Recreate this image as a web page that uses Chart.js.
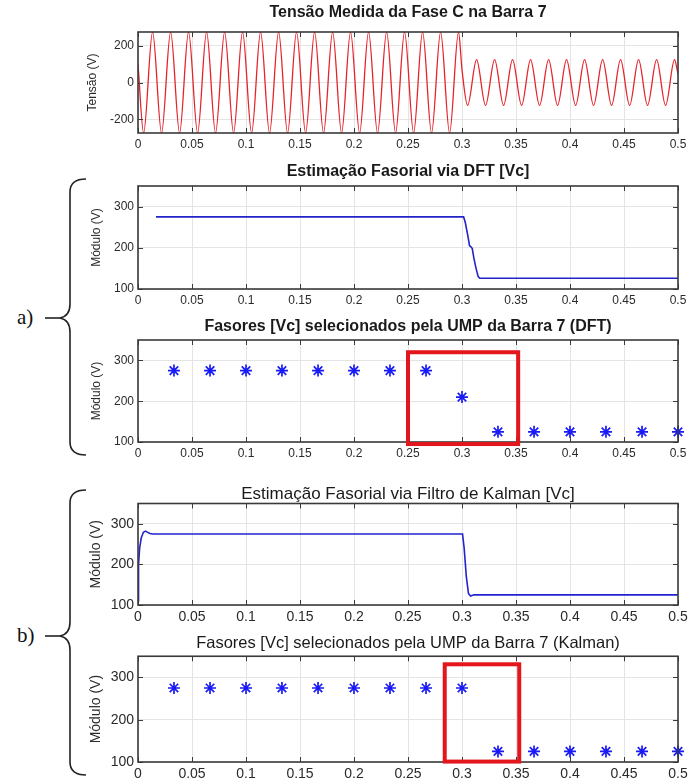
<!DOCTYPE html>
<html><head><meta charset="utf-8">
<script src="https://cdn.jsdelivr.net/npm/chart.js@4/dist/chart.umd.min.js"></script>
<style>
html,body{margin:0;padding:0;background:#fff;}
body{width:692px;height:780px;position:relative;overflow:hidden;}
.p{position:absolute;left:0;width:692px;}
svg{position:absolute;left:0;top:0;}
.lab{position:absolute;font-family:"Liberation Serif","DejaVu Serif",serif;font-size:21px;color:#111;line-height:1;}
</style></head><body>
<svg width="692" height="780">
  <path d="M86 179 Q70 179 70 192 L70 304 Q70 316 60 318 Q70 320 70 332 L70 442 Q70 455 86 455" fill="none" stroke="#222" stroke-width="1.6"/>
  <line x1="45" y1="318" x2="60" y2="318" stroke="#222" stroke-width="1.6"/>
  <path d="M86 490 Q70 490 70 503 L70 622 Q70 634 60 636 Q70 638 70 650 L70 762 Q70 775 86 775" fill="none" stroke="#222" stroke-width="1.6"/>
  <line x1="45" y1="636" x2="60" y2="636" stroke="#222" stroke-width="1.6"/>
</svg>
<div class="lab" style="left:17px;top:307px;">a)</div>
<div class="lab" style="left:17px;top:625px;">b)</div>
<script>
// ---------- data ----------
const xTickValues = [0,0.05,0.1,0.15,0.2,0.25,0.3,0.35,0.4,0.45,0.5];
const xTickLabels = ['0','0.05','0.1','0.15','0.2','0.25','0.3','0.35','0.4','0.45','0.5'];
const yTicksVoltage = [-200,0,200];
const yTicksModule = [100,200,300];

// measured phase C voltage: extrema of the waveform (s, V)
const voltageTime = [0,0.0052,0.0135,0.0218,0.0302,0.0385,0.0468,0.0552,0.0635,0.0718,0.0802,0.0885,0.0968,
  0.1052,0.1135,0.1218,0.1302,0.1385,0.1468,0.1552,0.1635,0.1718,0.1802,0.1885,0.1968,
  0.2052,0.2135,0.2218,0.2302,0.2385,0.2468,0.2552,0.2635,0.2718,0.2802,0.2885,0.2968,0.3,
  0.3052,0.3135,0.3218,0.3302,0.3385,0.3468,0.3552,0.3635,0.3718,0.3802,0.3885,0.3968,
  0.4052,0.4135,0.4218,0.4302,0.4385,0.4468,0.4552,0.4635,0.4718,0.4802,0.4885,0.4968,0.5];
const voltageValue = [100,-275,275,-275,275,-275,275,-275,275,-275,275,-275,275,
  -275,275,-275,275,-275,275,-275,275,-275,275,-275,275,
  -275,275,-275,275,-275,275,-275,275,-275,275,-275,275,70,
  -125,125,-125,125,-125,125,-125,125,-125,125,-125,125,
  -125,125,-125,125,-125,125,-125,125,-125,125,-125,125,45];

// DFT phasor magnitude
const dftTime  = [0.0167,0.3015,0.303,0.305,0.307,0.3085,0.3095,0.311,0.313,0.315,0.3165,0.5];
const dftValue = [275,275,262,235,205,202,198,175,150,130,126,126];

// Kalman phasor magnitude
const kalmanTime  = [0,0.0005,0.0015,0.003,0.005,0.007,0.009,0.011,0.014,0.3005,0.302,0.304,0.306,0.308,0.311,0.5];
const kalmanValue = [110,200,240,265,279,282,279,276,275,275,240,170,128,122,125,125];

// phasors selected by the PMU
const phasorTime   = [0.0333,0.0667,0.1,0.1333,0.1667,0.2,0.2333,0.2667,0.3,0.3333,0.3667,0.4,0.4333,0.4667,0.5];
const phasorDFT    = [275,275,275,275,275,275,275,275,210,125,125,125,125,125,125];
const phasorKalman = [275,275,275,275,275,275,275,275,275,125,125,125,125,125,125];

// highlighted windows [xMin, xMax, yMin, yMax]
const highlightDFT    = [0.25, 0.352, 95, 320];
const highlightKalman = [0.284, 0.353, 101, 331];

// ---------- drawing ----------
Chart.defaults.font.family = '"Liberation Sans", Arial, sans-serif';
Chart.defaults.animation = false;

const pts = (xs, ys) => xs.map((x, i) => ({x, y: ys[i]}));

function framePlugin(box) {
  return {
    id: 'matlabFrame',
    afterDatasetsDraw(chart) {
      const {ctx, chartArea: a, scales: {x, y}} = chart;
      ctx.save();
      ctx.strokeStyle = '#3a3a3a';
      ctx.lineWidth = 1;
      const L = 5;
      ctx.beginPath();
      x.ticks.forEach(t => {
        const px = Math.round(x.getPixelForValue(t.value)) + 0.5;
        ctx.moveTo(px, a.bottom); ctx.lineTo(px, a.bottom - L);
        ctx.moveTo(px, a.top); ctx.lineTo(px, a.top + L);
      });
      y.ticks.forEach(t => {
        const py = Math.round(y.getPixelForValue(t.value)) + 0.5;
        ctx.moveTo(a.left, py); ctx.lineTo(a.left + L, py);
        ctx.moveTo(a.right, py); ctx.lineTo(a.right - L, py);
      });
      ctx.stroke();
      ctx.lineWidth = 1.6;
      ctx.strokeRect(a.left, a.top, a.right - a.left, a.bottom - a.top);
      if (box) {
        const x0 = x.getPixelForValue(box[0]), x1 = x.getPixelForValue(box[1]);
        const y0 = y.getPixelForValue(box[2]), y1 = y.getPixelForValue(box[3]);
        ctx.strokeStyle = '#e3161d';
        ctx.lineWidth = 4;
        ctx.strokeRect(x0, y1, x1 - x0, y0 - y1);
      }
      ctx.restore();
    }
  };
}

function panel(o) {
  const canvasTop = o.titleY - o.titleSize / 2 - 2;
  const H = o.frameBottom + 22 - canvasTop;
  const div = document.createElement('div');
  div.className = 'p';
  div.style.top = canvasTop + 'px';
  div.style.height = H + 'px';
  const c = document.createElement('canvas');
  c.width = 692; c.height = H;
  c.style.width = '692px'; c.style.height = H + 'px';
  div.appendChild(c);
  document.body.appendChild(div);
  const PL = o.yTitleX - o.yTitleSize * 0.6;
  new Chart(c, {
    type: 'line',
    data: {datasets: o.datasets},
    options: {
      responsive: false,
      animation: false,
      layout: {padding: {left: PL, right: 14, top: 0, bottom: 0}},
      plugins: {
        legend: {display: false},
        tooltip: {enabled: false},
        title: {
          display: true, text: o.title, fullSize: false,
          color: '#1a1a1a',
          font: {size: o.titleSize, weight: o.titleWeight, lineHeight: 1},
          padding: {top: 2, bottom: o.frameTop - o.titleY - o.titleSize / 2}
        }
      },
      scales: {
        x: {
          type: 'linear', min: 0, max: 0.5,
          afterBuildTicks: s => { s.ticks = xTickValues.map(v => ({value: v})); },
          afterFit: s => { s.height = 22; },
          ticks: {color: '#2a2a2a', font: {size: o.tickSize}, padding: 4, maxRotation: 0, autoSkip: false,
                  callback: (v, i) => xTickLabels[i]},
          grid: {color: '#e4e4e4', drawTicks: false, lineWidth: 1},
          border: {display: false}
        },
        y: {
          type: 'linear', min: o.yMin, max: o.yMax,
          afterBuildTicks: s => { s.ticks = o.yTicks.map(v => ({value: v})); },
          afterFit: s => { s.width = 138 - PL; },
          ticks: {color: '#2a2a2a', font: {size: o.tickSize}, padding: 4,
                  callback: v => String(v)},
          grid: {color: '#e4e4e4', drawTicks: false, lineWidth: 1},
          border: {display: false},
          title: {display: true, text: o.yTitle, color: '#2a2a2a', padding: 0,
                  font: {size: o.yTitleSize, lineHeight: 1.2}}
        }
      }
    },
    plugins: [framePlugin(o.box)]
  });
}

const lineDS = (data, color, extra) => Object.assign({data, borderColor: color, borderWidth: 1.4, pointRadius: 0, fill: false, tension: 0}, extra || {});
const starDS = (data) => ({data, showLine: false, clip: false, pointStyle: 'star', pointRadius: 6, borderColor: '#1a1af5', borderWidth: 1.7, backgroundColor: '#1a1af5'});

panel({
  title: 'Tensão Medida da Fase C na Barra 7', titleY: 13, titleSize: 16, titleWeight: 'bold',
  frameTop: 32, frameBottom: 133, tickSize: 12, yTitle: 'Tensão (V)', yTitleSize: 12, yTitleX: 93,
  yMin: -275, yMax: 275, yTicks: yTicksVoltage,
  datasets: [lineDS(pts(voltageTime, voltageValue), '#e5232b', {cubicInterpolationMode: 'monotone', borderWidth: 1.3})]
});
panel({
  title: 'Estimação Fasorial via DFT [Vc]', titleY: 172, titleSize: 16, titleWeight: 'bold',
  frameTop: 186, frameBottom: 289, tickSize: 12, yTitle: 'Módulo (V)', yTitleSize: 12, yTitleX: 97,
  yMin: 100, yMax: 350, yTicks: yTicksModule,
  datasets: [lineDS(pts(dftTime, dftValue), '#2323c8', {borderWidth: 1.6})]
});
panel({
  title: 'Fasores [Vc] selecionados pela UMP da Barra 7 (DFT)', titleY: 327, titleSize: 16, titleWeight: 'bold',
  frameTop: 340, frameBottom: 442, tickSize: 12, yTitle: 'Módulo (V)', yTitleSize: 12, yTitleX: 97,
  yMin: 100, yMax: 350, yTicks: yTicksModule, box: highlightDFT,
  datasets: [starDS(pts(phasorTime, phasorDFT))]
});
panel({
  title: 'Estimação Fasorial via Filtro de Kalman [Vc]', titleY: 494, titleSize: 17, titleWeight: 'normal',
  frameTop: 503, frameBottom: 605, tickSize: 14, yTitle: 'Módulo (V)', yTitleSize: 14, yTitleX: 96,
  yMin: 100, yMax: 350, yTicks: yTicksModule,
  datasets: [lineDS(pts(kalmanTime, kalmanValue), '#2323d2', {borderWidth: 1.6})]
});
panel({
  title: 'Fasores [Vc] selecionados pela UMP da Barra 7 (Kalman)', titleY: 643, titleSize: 16.5, titleWeight: 'normal',
  frameTop: 656, frameBottom: 762, tickSize: 14, yTitle: 'Módulo (V)', yTitleSize: 14, yTitleX: 96,
  yMin: 100, yMax: 350, yTicks: yTicksModule, box: highlightKalman,
  datasets: [starDS(pts(phasorTime, phasorKalman))]
});
</script>
</body></html>
